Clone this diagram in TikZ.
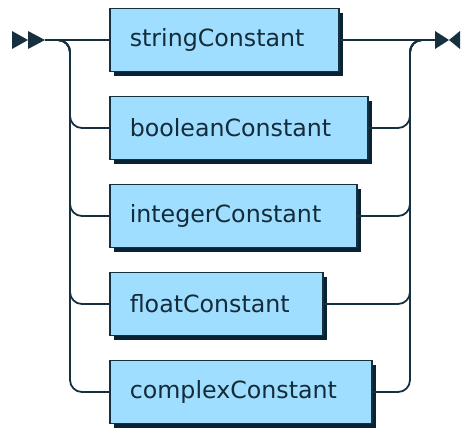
\documentclass[tikz,border=0pt]{standalone}
\usepackage{fontspec}
\setmainfont{DejaVu Sans}
\usepackage{tikz}
\usetikzlibrary{calc, shadows}
\definecolor{boxfill}{RGB}{160,222,255}
\definecolor{linecol}{RGB}{22,48,64}
\definecolor{shadecol}{RGB}{8,36,52}

\begin{document}
\begin{tikzpicture}[x=1bp, y=-1bp, line width=1.8bp, draw=linecol,
  term/.style={draw=linecol, line width=1.6bp, fill=boxfill, anchor=west,
    minimum height=63bp, inner xsep=20bp, align=left, text=linecol!90!black,
    font=\fontsize{23.8}{28}\selectfont,
    general shadow={fill=shadecol, shadow xshift=4.5bp, shadow yshift=-4.5bp}},
  rail/.style={draw=linecol, line width=1.8bp, rounded corners=12bp}]
  \useasboundingbox (0,0) rectangle (461,428);

  \coordinate (start) at (45,40);
  \coordinate (end) at (435,40);
  \coordinate (lbus) at (70,0);
  \coordinate (rbus) at (410,0);

  \node[term, text width=189bp] (str) at (109,40) {stringConstant};
  \node[term, text width=218bp] (bool) at (109,128) {booleanConstant};
  \node[term, text width=207bp] (int) at (109,216) {integerConstant};
  \node[term, text width=173bp] (flt) at (109,304) {floatConstant};
  \node[term, text width=222bp] (cpx) at (109,392) {complexConstant};

  \fill[linecol] (12,31) -- (28,40) -- (12,49) -- cycle;
  \fill[linecol] (28,31) -- (45,40) -- (28,49) -- cycle;
  \fill[linecol] (435,31) -- (449,40) -- (435,49) -- cycle;
  \fill[linecol] (460,31) -- (449,40) -- (460,49) -- cycle;

  \draw[rail] (start) -- (str.west);
  \draw[rail] (str.east) -- (end);
  \foreach \n in {bool, int, flt, cpx} {
    \draw[rail] (start) -| (lbus |- \n.west) -- (\n.west);
    \draw[rail] (\n.east) -- (rbus |- \n.east) |- (end);
  }
\end{tikzpicture}
\end{document}
